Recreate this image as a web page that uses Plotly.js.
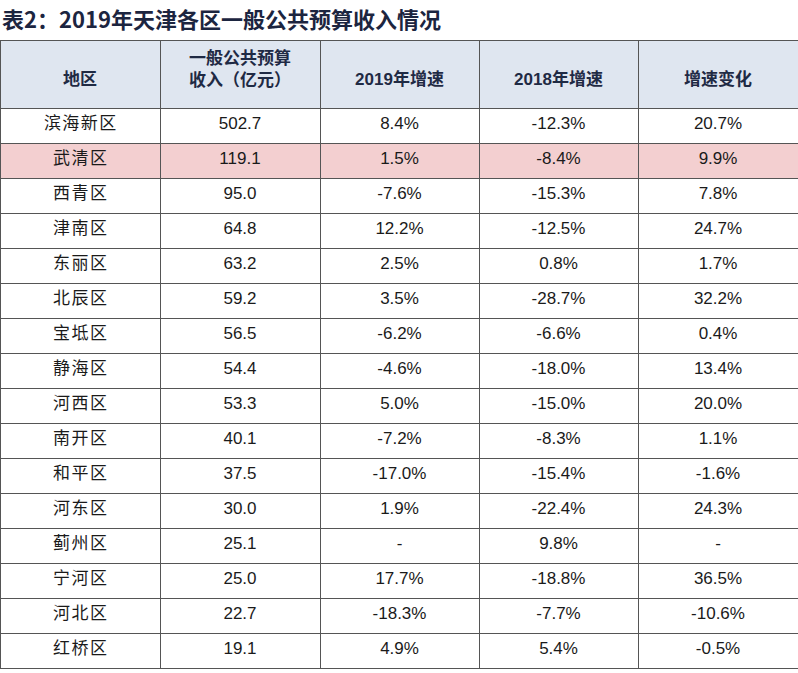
<!DOCTYPE html>
<html><head><meta charset="utf-8">
<script src="https://cdn.plot.ly/plotly-3.0.1.min.js"></script>
<style>html,body{margin:0;padding:0;background:#fff;}#chart{width:798px;height:673px;}</style>
</head><body><div id="chart"></div>
<script>
const headers = ["&nbsp;<br>地区", "一般公共预算<br>收入（亿元）", "&nbsp;<br>2019年增速", "&nbsp;<br>2018年增速", "&nbsp;<br>增速变化"];
const districts = ["滨海新区","武清区","西青区","津南区","东丽区","北辰区","宝坻区","静海区","河西区","南开区","和平区","河东区","蓟州区","宁河区","河北区","红桥区"];
const revenue = ["502.7","119.1","95.0","64.8","63.2","59.2","56.5","54.4","53.3","40.1","37.5","30.0","25.1","25.0","22.7","19.1"];
const growth2019 = ["8.4%","1.5%","-7.6%","12.2%","2.5%","3.5%","-6.2%","-4.6%","5.0%","-7.2%","-17.0%","1.9%","-","17.7%","-18.3%","4.9%"];
const growth2018 = ["-12.3%","-8.4%","-15.3%","-12.5%","0.8%","-28.7%","-6.6%","-18.0%","-15.0%","-8.3%","-15.4%","-22.4%","9.8%","-18.8%","-7.7%","5.4%"];
const change = ["20.7%","9.9%","7.8%","24.7%","1.7%","32.2%","0.4%","13.4%","20.0%","1.1%","-1.6%","24.3%","-","36.5%","-10.6%","-0.5%"];
const highlighted = "武清区";

const rowFill = districts.map(d => d === highlighted ? "#f3cfd0" : "#ffffff");
const districtLabels = districts.map(d => d.split("").join("\u200A"));
const fontCJK = "Liberation Sans, Arial, Noto Sans CJK SC, sans-serif";

const trace = {
  type: "table",
  domain: {x: [0, 1], y: [0, 1 - 40/673]},
  columnwidth: [160, 160, 159, 159, 160],
  header: {
    values: headers.map(h => "<b>" + h + "</b>"),
    align: "center",
    height: 68,
    fill: {color: "#dfe6f0"},
    line: {color: "#555555", width: 1},
    font: {family: fontCJK, size: 17, color: "#1f2a44"}
  },
  cells: {
    values: [districtLabels, revenue, growth2019, growth2018, change],
    align: "center",
    height: 35,
    fill: {color: [rowFill, rowFill, rowFill, rowFill, rowFill]},
    line: {color: "#555555", width: 1},
    font: {family: fontCJK, size: 17, color: "#1a1a1a"}
  }
};

const layout = {
  width: 798, height: 673,
  margin: {l: 0, r: 0, t: 0, b: 0},
  paper_bgcolor: "#ffffff",
  showlegend: false,
  annotations: [{
    text: "<b>表2：2019年天津各区一般公共预算收入情况</b>",
    xref: "paper", yref: "paper",
    x: 0, y: 1 - 18/673, xanchor: "left", yanchor: "middle",
    showarrow: false,
    font: {family: "Noto Sans CJK SC, Liberation Sans, sans-serif", size: 22, color: "#1c2540"}
  }]
};

Plotly.newPlot("chart", [trace], layout, {displayModeBar: false, staticPlot: true});
</script></body></html>
